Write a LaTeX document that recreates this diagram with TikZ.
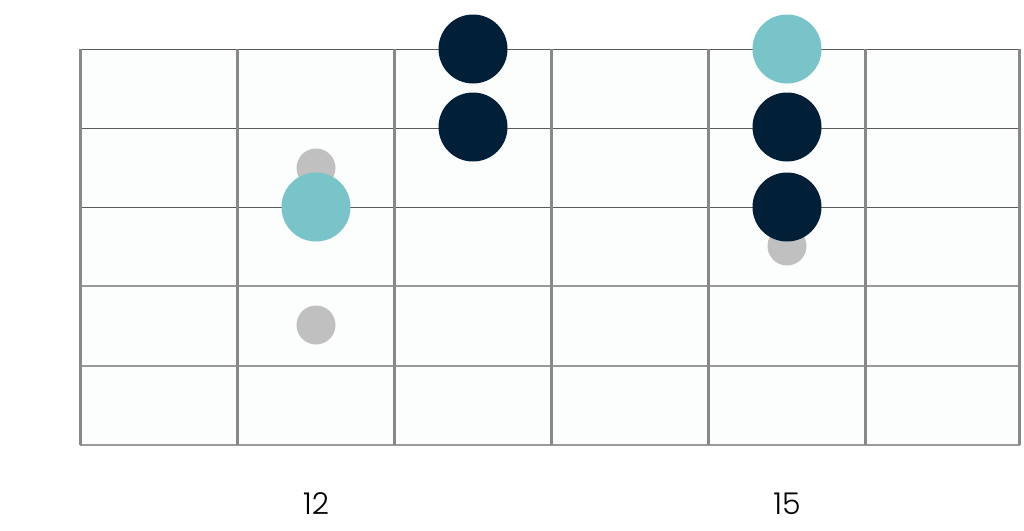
\documentclass[tikz,border=0pt]{standalone}
\usepackage{fontspec}
\setmainfont{Poppins}[UprightFont=* Light]
\definecolor{navy}{HTML}{011F37}
\definecolor{teal2}{HTML}{78C4C8}
\definecolor{dotgrey}{HTML}{C0C0C0}
\definecolor{strdark}{HTML}{5A5A5A}
\definecolor{strlight}{HTML}{9A9A9A}
\definecolor{fretgrey}{HTML}{888888}
\definecolor{boardbg}{HTML}{FCFDFD}
\begin{document}
\begin{tikzpicture}[x=1pt,y=-1pt,
  bignote/.style={circle,minimum size=69pt,inner sep=0pt,draw=none},
  smallnote/.style={circle,minimum size=39pt,inner sep=0pt,draw=none,fill=dotgrey},
  thinstr/.style={draw=strdark,line width=1pt},
  thickstr/.style={draw=strlight,line width=2.5pt},
  fret/.style={draw=fretgrey,line width=3pt},
  fretlabel/.style={font=\fontsize{30}{30}\selectfont,text=black}]
\useasboundingbox (0,0) rectangle (1024,530);
\fill[white] (0,0) rectangle (1024,530);
\fill[boardbg] (80,49) rectangle (1019,445);
% strings
\foreach \y in {49,128,207} \draw[thinstr] (80,\y) -- (1019,\y);
\foreach \y in {286,366,445} \draw[thickstr] (80,\y) -- (1020,\y);
% frets
\foreach \x in {80,237,394,551,708,865,1019} \draw[fret] (\x,49) -- (\x,445);
% grey dots
\node[smallnote] (g1) at (316,168) {};
\node[smallnote] (g2) at (316,325) {};
\node[smallnote] (g3) at (787,246) {};
% big notes
\node[bignote,fill=teal2] (t1) at (316,207) {};
\node[bignote,fill=navy] (n1) at (473,49) {};
\node[bignote,fill=navy] (n2) at (473,127) {};
\node[bignote,fill=teal2] (t2) at (787,49) {};
\node[bignote,fill=navy] (n3) at (787,127) {};
\node[bignote,fill=navy] (n4) at (787,207) {};
% labels
\node[fretlabel] (l12) at (316,504) {12};
\node[fretlabel] (l15) at (787,504) {15};
\end{tikzpicture}
\end{document}
